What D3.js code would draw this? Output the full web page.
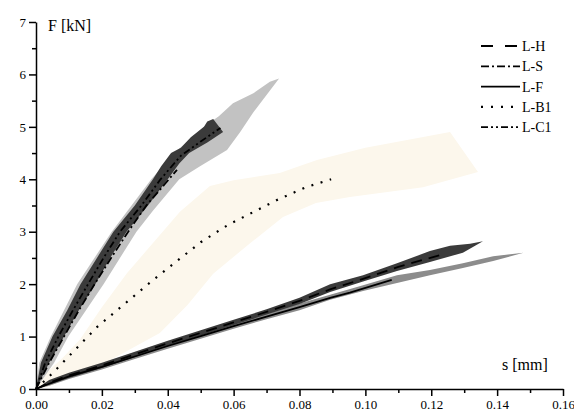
<!DOCTYPE html>
<html>
<head>
<meta charset="utf-8">
<script src="https://cdn.jsdelivr.net/npm/d3@7"></script>
<style>
  html, body { margin: 0; padding: 0; background: #ffffff; }
  svg { display: block; }
</style>
</head>
<body>
<svg id="chart" width="574" height="412"></svg>
<script>
// ---- data: [s (mm), F (kN)] ----
const xTicks = [0, 0.02, 0.04, 0.06, 0.08, 0.10, 0.12, 0.14, 0.16];
const yTicks = [0, 1, 2, 3, 4, 5, 6, 7];

const legendNames = ["L-H", "L-S", "L-F", "L-B1", "L-C1"];

// mean curves
const lineH = [[0,0],[0.004,0.12],[0.01,0.26],[0.02,0.45],[0.03,0.66],[0.04,0.87],[0.05,1.07],[0.06,1.27],[0.07,1.47],[0.08,1.68],[0.0893,1.9],[0.0993,2.1],[0.11,2.33],[0.123,2.56]];
const lineF = [[0,0],[0.004,0.1],[0.01,0.24],[0.02,0.42],[0.03,0.62],[0.04,0.82],[0.05,1.01],[0.06,1.2],[0.07,1.38],[0.08,1.56],[0.0893,1.74],[0.0953,1.84],[0.108,2.08]];
const lineS = [[0,0],[0.004,0.5],[0.0085,1],[0.013,1.5],[0.0178,2],[0.0228,2.5],[0.028,3],[0.0335,3.5],[0.039,3.9],[0.0428,4.18]];
const lineC1 = [[0,0],[0.0028,0.5],[0.0068,1],[0.0112,1.5],[0.0158,2],[0.0205,2.5],[0.0255,3],[0.032,3.5],[0.0378,4],[0.044,4.45],[0.05,4.72],[0.056,4.98]];
const lineB1 = [[0,0],[0.005,0.3],[0.0185,1.18],[0.035,2.05],[0.05,2.8],[0.0583,3.13],[0.073,3.6],[0.082,3.85],[0.0896,4.0]];

// scatter bands: two edges each
const bandB1Upper = [[0,0],[0.003,0.3],[0.0082,0.6],[0.0134,0.95],[0.02,1.56],[0.0276,2.21],[0.0316,2.5],[0.0437,3.38],[0.0528,3.87],[0.06,3.98],[0.074,4.12],[0.0853,4.37],[0.1,4.6],[0.1257,4.9],[0.1342,4.14]];
const bandB1Lower = [[0,0],[0.004,0.05],[0.0125,0.3],[0.0225,0.55],[0.0376,1.07],[0.046,1.6],[0.0538,2.2],[0.065,2.78],[0.075,3.28],[0.085,3.55],[0.0953,3.66],[0.1175,3.85],[0.1342,4.14]];

const bandSLeft = [[0,0],[0.001,0.5],[0.0045,1],[0.0125,2],[0.023,3],[0.035,4],[0.042,4.5],[0.051,5],[0.0555,5.2],[0.0598,5.45],[0.066,5.64],[0.071,5.86],[0.0738,5.92]];
const bandSRight = [[0,0],[0.0055,0.5],[0.0098,1],[0.0205,2],[0.0305,3],[0.0355,3.4],[0.0435,4],[0.0498,4.25],[0.058,4.56],[0.062,4.9],[0.066,5.28],[0.0738,5.92]];

const bandC1Left = [[0,0],[0.0015,0.5],[0.005,1],[0.0095,1.5],[0.0135,2],[0.0185,2.5],[0.0235,3],[0.03,3.5],[0.0355,4],[0.038,4.25],[0.041,4.5],[0.044,4.6],[0.047,4.8],[0.049,4.9],[0.051,5.0],[0.052,5.1],[0.0538,5.15]];
const bandC1Right = [[0,0],[0.004,0.5],[0.0085,1],[0.013,1.5],[0.018,2],[0.0225,2.5],[0.0275,3],[0.034,3.5],[0.04,4],[0.0435,4.3],[0.0465,4.5],[0.052,4.7],[0.0568,4.9],[0.0538,5.15]];

const bandFUpper = [[0,0],[0.004,0.14],[0.01,0.29],[0.02,0.47],[0.03,0.67],[0.04,0.87],[0.05,1.06],[0.06,1.26],[0.07,1.45],[0.08,1.63],[0.0893,1.8],[0.0993,1.98],[0.1096,2.17],[0.1196,2.27],[0.1296,2.4],[0.1388,2.53],[0.148,2.6]];
const bandFLower = [[0,0],[0.004,0.06],[0.01,0.19],[0.02,0.37],[0.03,0.57],[0.04,0.77],[0.05,0.96],[0.06,1.15],[0.07,1.33],[0.08,1.5],[0.0893,1.7],[0.0993,1.87],[0.1096,2.02],[0.1196,2.17],[0.1296,2.31],[0.1388,2.44],[0.148,2.6]];

const bandHUpper = [[0,0],[0.004,0.17],[0.01,0.31],[0.02,0.5],[0.03,0.71],[0.04,0.92],[0.05,1.12],[0.06,1.32],[0.07,1.52],[0.08,1.74],[0.0893,2.0],[0.0993,2.17],[0.1096,2.4],[0.1196,2.63],[0.1257,2.73],[0.1318,2.77],[0.1357,2.82]];
const bandHLower = [[0,0],[0.004,0.08],[0.01,0.21],[0.02,0.4],[0.03,0.61],[0.04,0.82],[0.05,1.02],[0.06,1.22],[0.07,1.42],[0.08,1.62],[0.0893,1.85],[0.0993,2.05],[0.1096,2.25],[0.1196,2.42],[0.1296,2.6],[0.1357,2.82]];

// ---- layout ----
const svg = d3.select("#chart");
const margin = { left: 36, right: 11, top: 22, bottom: 23 };
const width = 574, height = 412;
const fontFamily = "'Liberation Serif', 'Times New Roman', serif";

const x = d3.scaleLinear().domain([0, 0.16]).range([margin.left, width - margin.right]);
const y = d3.scaleLinear().domain([0, 7]).range([height - margin.bottom, margin.top]);

const line = d3.line().x(d => x(d[0])).y(d => y(d[1]));
const polygon = d3.line().x(d => x(d[0])).y(d => y(d[1])).curve(d3.curveLinearClosed);

// bands, drawn lightest first
const bands = [
    { a: bandB1Upper, b: bandB1Lower, fill: "#fcf7ec" },
    { a: bandSLeft,   b: bandSRight,  fill: "#c2c2c2" },
    { a: bandFUpper,  b: bandFLower,  fill: "#8c8c8c" },
    { a: bandHUpper,  b: bandHLower,  fill: "#3b3b3b" },
    { a: bandC1Left,  b: bandC1Right, fill: "#3b3b3b" }
];

svg.append("g")
    .selectAll("path")
    .data(bands)
    .join("path")
    .attr("d", d => polygon(d.a.concat(d.b.slice().reverse())))
    .attr("fill", d => d.fill)
    .attr("stroke", "none");

// mean lines with their dash styles
const series = [
    { name: "L-H",  pts: lineH,  dash: "11,7",         legendDash: "12,12" },
    { name: "L-S",  pts: lineS,  dash: "8,3,2,3",      legendDash: "8,3,2,3" },
    { name: "L-F",  pts: lineF,  dash: null,           legendDash: null },
    { name: "L-B1", pts: lineB1, dash: "2,7.6",        legendDash: "2,8" },
    { name: "L-C1", pts: lineC1, dash: "7,3,2,3,2,3",  legendDash: "7,3,2,3,2,3" }
];

svg.append("g")
    .selectAll("path")
    .data(series)
    .join("path")
    .attr("d", d => line(d.pts))
    .attr("fill", "none")
    .attr("stroke", "#000")
    .attr("stroke-width", d => d.name === "L-B1" ? 2.2 : 1.8)
    .attr("stroke-dasharray", d => d.dash);

// ---- axes ----
const yMinor = d3.range(0.5, 7, 1);
const xMinor = d3.range(0.01, 0.16, 0.02);

svg.append("g")
    .attr("transform", `translate(${margin.left},0)`)
    .call(d3.axisLeft(y).tickValues(yTicks).tickSize(7).tickSizeOuter(0).tickPadding(3).tickFormat(d3.format("d")));
svg.append("g")
    .attr("transform", `translate(${margin.left},0)`)
    .call(d3.axisLeft(y).tickValues(yMinor).tickSize(4).tickSizeOuter(0).tickFormat(""))
    .select(".domain").remove();

svg.append("g")
    .attr("transform", `translate(0,${height - margin.bottom})`)
    .call(d3.axisBottom(x).tickValues(xTicks).tickSize(7).tickSizeOuter(0).tickPadding(4).tickFormat(d3.format(".2f")));
svg.append("g")
    .attr("transform", `translate(0,${height - margin.bottom})`)
    .call(d3.axisBottom(x).tickValues(xMinor).tickSize(4).tickSizeOuter(0).tickFormat(""))
    .select(".domain").remove();

svg.selectAll(".domain, .tick line")
    .attr("stroke", "#000")
    .attr("stroke-width", 1.5);
svg.selectAll(".tick text")
    .attr("fill", "#000")
    .style("font-family", fontFamily)
    .style("font-size", "13px");

// axis titles
svg.append("text")
    .attr("x", 48)
    .attr("y", 31)
    .attr("fill", "#000")
    .style("font-family", fontFamily)
    .style("font-size", "16px")
    .text("F [kN]");

svg.append("text")
    .attr("x", 502)
    .attr("y", 370)
    .attr("fill", "#000")
    .style("font-family", fontFamily)
    .style("font-size", "16px")
    .text("s [mm]");

// ---- legend ----
const legend = svg.append("g").attr("transform", "translate(481,46)");
const rows = legend.selectAll("g")
    .data(series)
    .join("g")
    .attr("transform", (d, i) => `translate(0,${i * 20.3})`);

rows.append("line")
    .attr("x1", 0)
    .attr("x2", 39)
    .attr("y1", 0)
    .attr("y2", 0)
    .attr("stroke", "#000")
    .attr("stroke-width", d => d.name === "L-B1" ? 2.2 : 1.8)
    .attr("stroke-dasharray", d => d.legendDash);

rows.append("text")
    .attr("x", 41)
    .attr("y", 5)
    .attr("fill", "#000")
    .style("font-family", fontFamily)
    .style("font-size", "14px")
    .text((d, i) => legendNames[i]);
</script>
</body>
</html>
